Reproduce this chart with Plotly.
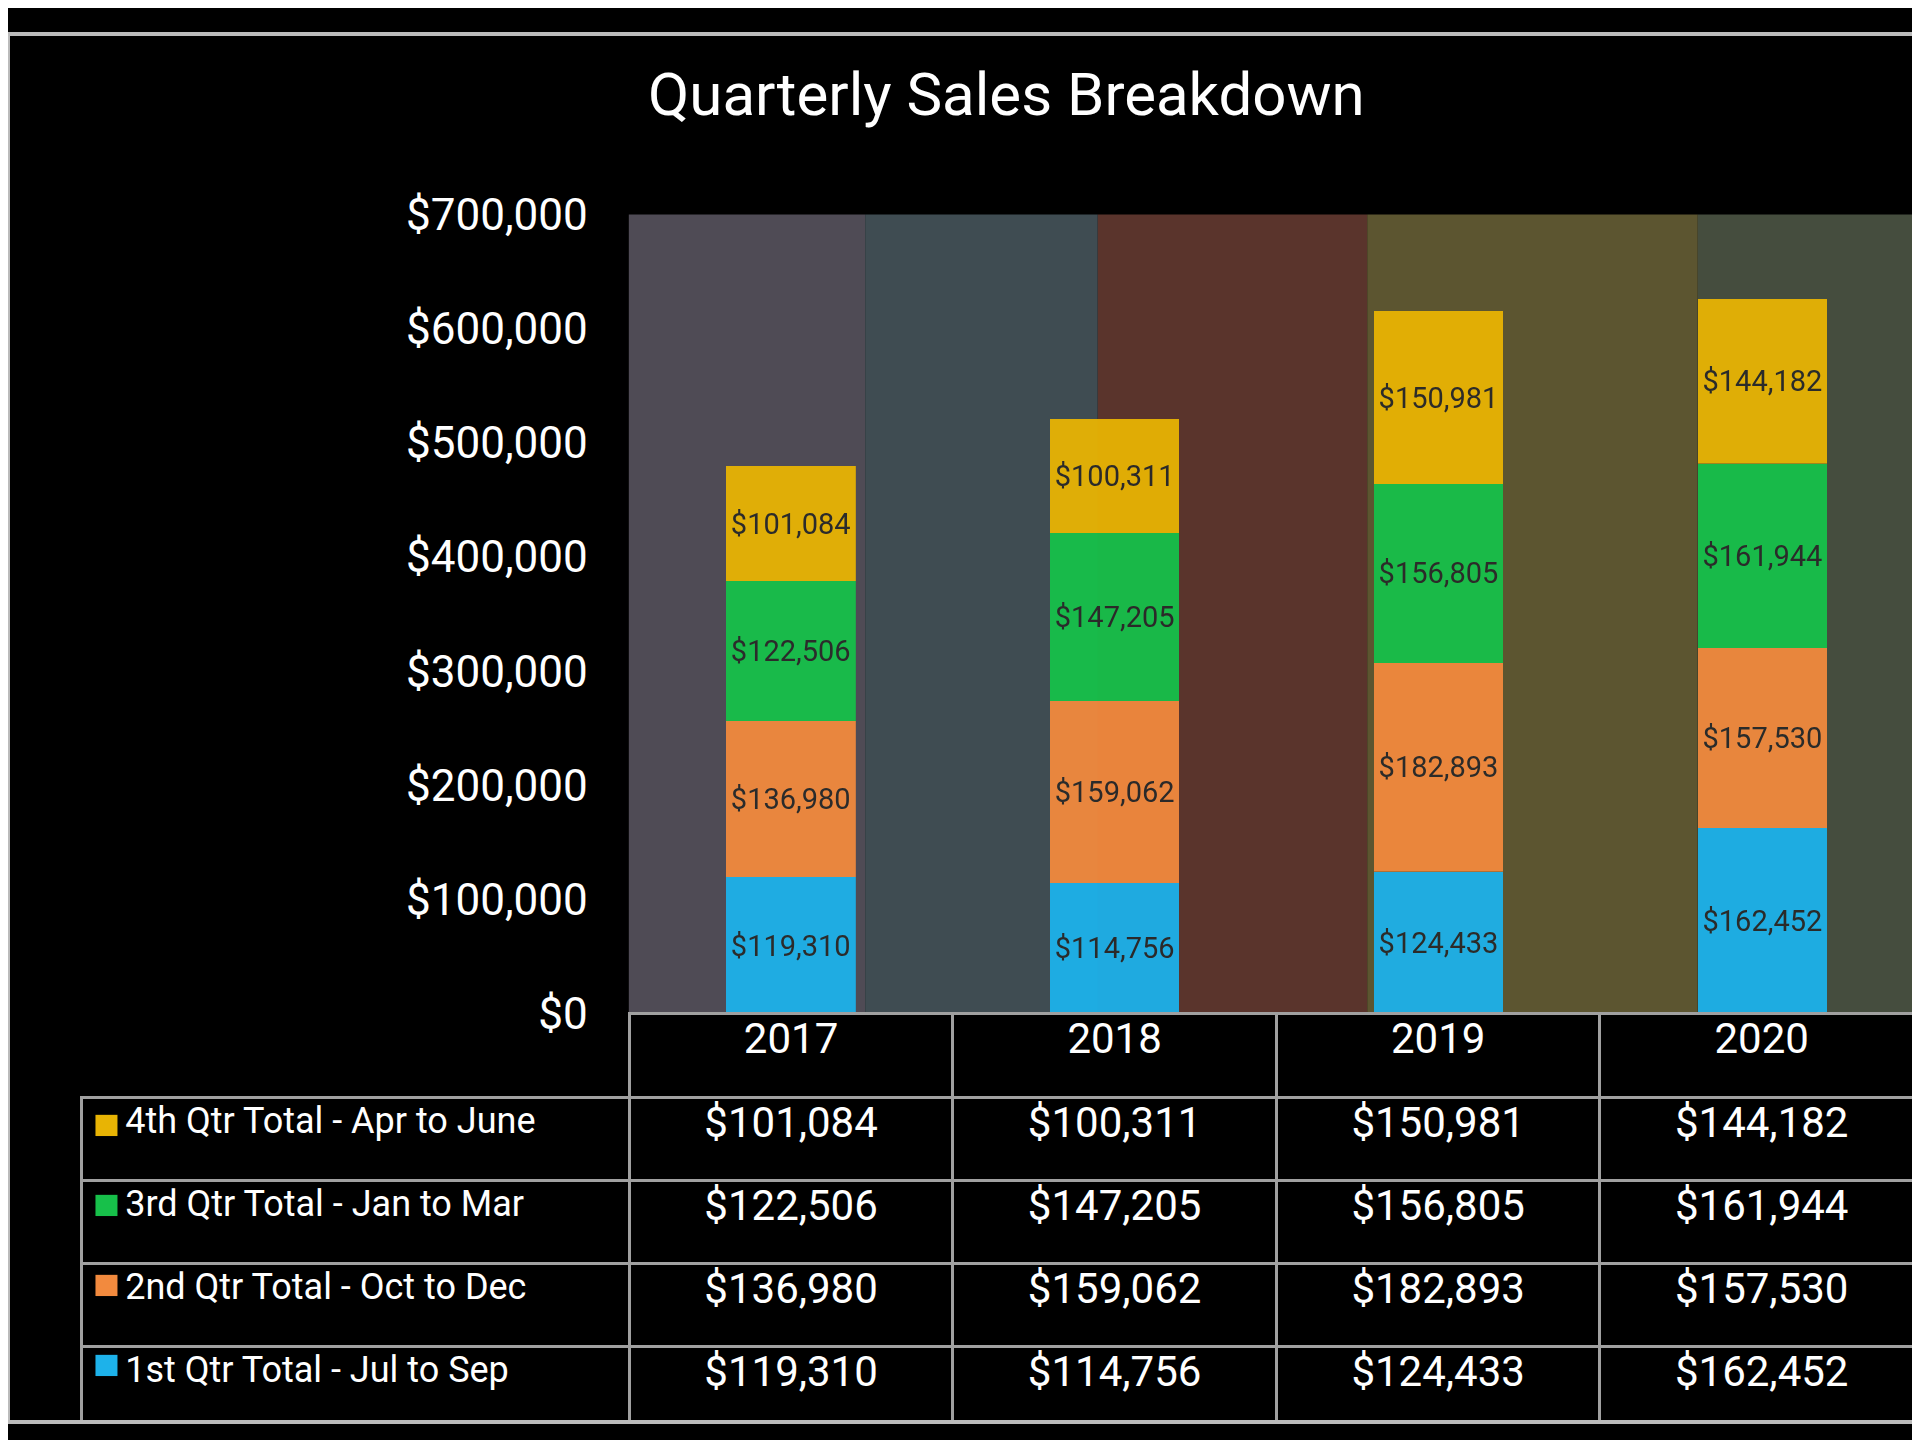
import plotly.graph_objects as go

years = ["2017", "2018", "2019", "2020"]
q1 = [119310, 114756, 124433, 162452]
q2 = [136980, 159062, 182893, 157530]
q3 = [122506, 147205, 156805, 161944]
q4 = [101084, 100311, 150981, 144182]
names = ["1st Qtr Total - Jul to Sep", "2nd Qtr Total - Oct to Dec",
         "3rd Qtr Total - Jan to Mar", "4th Qtr Total - Apr to June"]
colors = ["#1db2ea", "#f28a3e", "#17c04a", "#e8b404"]
yticks = [0, 100000, 200000, 300000, 400000, 500000, 600000, 700000]

FONT = "Roboto, sans-serif"
W, H = 1920, 1440
fig = go.Figure()

px0, px1 = 507/1568, 1565/1568
py0, py1 = 1-830/1176, 1-153/1176
bands = [(507, 700, "#4f4b55"), (700, 890, "#3f4c52"), (890, 1110, "#5a342c"),
         (1110, 1380, "#5c5530"), (1380, 1565, "#454d3e")]
shapes = []
for a, b, c in bands:
    shapes.append(dict(type="rect", xref="paper", yref="paper", x0=a/1568, x1=b/1568,
                       y0=py0, y1=py1, fillcolor=c, line_width=0, layer="below"))

for vals, nm, col in zip([q1, q2, q3, q4], names, colors):
    fig.add_trace(go.Bar(x=years, y=vals, name=nm, marker=dict(color=col, line_width=0),
                         opacity=0.95, width=0.4,
                         text=[f"${v:,}" for v in vals], textposition="inside",
                         insidetextanchor="middle", textangle=0,
                         textfont=dict(color="#2a2a2a", size=29, family=FONT),
                         constraintext="none", showlegend=False))

rows = list(zip(names, [q1, q2, q3, q4], colors))[::-1]
first = [f"    {n}" for n, v, c in rows]
cols = [first] + [[f"${v[i]:,}" for n, v, c in rows] for i in range(4)]
tbl_top = py0
hdr_h, row_h = 84, 83
fig.add_trace(go.Table(
    domain=dict(x=[60/1568, px1], y=[0.0, tbl_top]),
    columnwidth=[447, 264, 264, 264, 264],
    header=dict(values=[""] + years, height=hdr_h,
                fill_color=["rgba(0,0,0,0)", "black", "black", "black", "black"],
                line=dict(color=["rgba(0,0,0,0)", "#a0a0a0", "#a0a0a0", "#a0a0a0", "#a0a0a0"], width=3),
                font=dict(color="white", size=42, family=FONT), align="center"),
    cells=dict(values=cols, height=row_h, fill_color="black",
               line=dict(color="#a0a0a0", width=3),
               font=dict(color="white", size=[36, 42, 42, 42, 42], family=FONT),
               align=["left", "center", "center", "center", "center"])))

for i, (n, v, c) in enumerate(rows):
    ytop = tbl_top * H - hdr_h - i * row_h
    yc = (ytop - 32) / H
    shapes.append(dict(type="rect", xref="paper", yref="paper",
                       x0=(60/1568*W + 14)/W, x1=(60/1568*W + 36)/W,
                       y0=yc - 11/H, y1=yc + 11/H, fillcolor=c, line_width=0))

shapes.append(dict(type="rect", xref="paper", yref="paper", x0=0, x1=1, y0=0, y1=1,
                   line=dict(color="#bbbbbb", width=4)))

fig.update_layout(
    width=W, height=H, barmode="stack", paper_bgcolor="black",
    plot_bgcolor="rgba(0,0,0,0)", uniformtext=dict(minsize=29, mode="show"),
    margin=dict(l=0, r=0, t=0, b=0),
    title=dict(text="Quarterly Sales Breakdown", x=0.52, xanchor="center", y=0.94,
               yanchor="middle", font=dict(color="white", size=60, family=FONT)),
    xaxis=dict(domain=[px0, px1], showticklabels=False, showgrid=False, zeroline=False),
    yaxis=dict(domain=[py0, py1], range=[0, 700000], tickvals=yticks,
               ticktext=[f"${v:,}" for v in yticks], showgrid=False, zeroline=False,
               tickfont=dict(color="white", size=44, family=FONT), ticklabelstandoff=40),
    shapes=shapes,
)
fig.write_html("out.html")
